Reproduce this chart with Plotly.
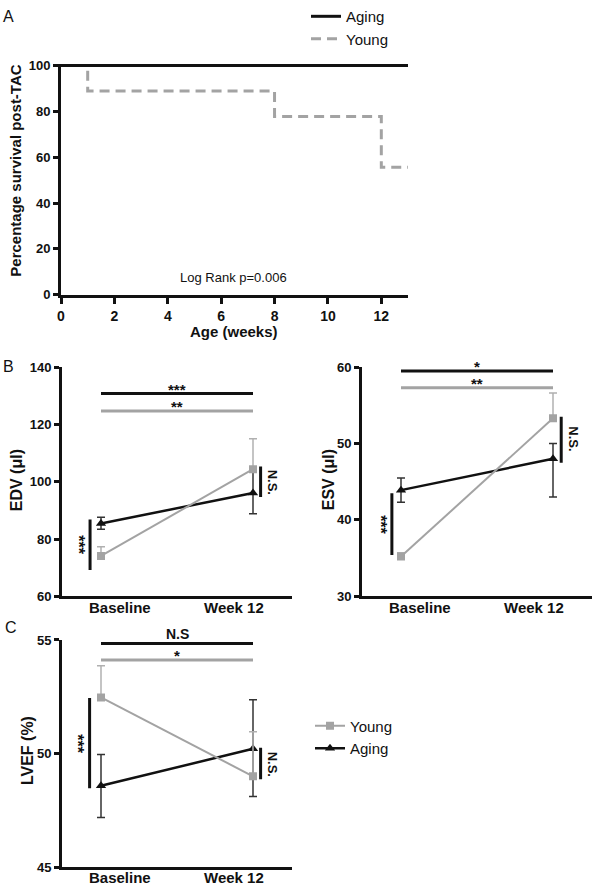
import plotly.graph_objects as go

FONT = "Liberation Sans"
GRAY = "#A3A3A3"
BLACK = "#111111"

# ---------------- Panel A data (Kaplan-Meier) ----------------
km_aging_weeks = [0, 13]
km_aging_surv = [100, 100]
km_young_weeks = [0, 1, 8, 12, 13]
km_young_surv = [100, 88.9, 77.8, 55.6, 55.6]
a_xticks = [0, 2, 4, 6, 8, 10, 12]
a_yticks = [0, 20, 40, 60, 80, 100]

# ---------------- Panels B/C data ----------------
timepoints = [0, 1]
time_labels = ["Baseline", "Week 12"]
time_label_pos = [0.125, 0.875]

edv_young = [74.1, 104.4]
edv_young_err = [3.2, 10.6]
edv_aging = [85.4, 96.1]
edv_aging_err_up = [2.2, 7.3]
edv_aging_err_dn = [2.0, 7.3]

esv_young = [35.2, 53.3]
esv_young_err = [0.5, 3.3]
esv_aging = [43.9, 48.0]
esv_aging_err_up = [1.6, 2.0]
esv_aging_err_dn = [1.6, 5.0]

lvef_young = [52.47, 49.0]
lvef_young_err = [1.4, 1.96]
lvef_aging = [48.58, 50.21]
lvef_aging_err_up = [1.38, 2.16]
lvef_aging_err_dn = [1.39, 2.1]

# significance annotations
edv_sig = dict(black_y=130.8, black_txt="***", gray_y=124.7, gray_txt="**",
               left=(-0.072, 69.2, 86.8), left_txt="***", left_ty=78.0,
               right=(1.05, 94.7, 105.3), right_txt="N.S.", right_ty=100.0)
esv_sig = dict(black_y=59.5, black_txt="*", gray_y=57.3, gray_txt="**",
               left=(-0.06, 35.4, 43.5), left_txt="***", left_ty=39.4,
               right=(1.054, 47.5, 53.5), right_txt="N.S.", right_ty=50.6)
lvef_sig = dict(black_y=54.85, black_txt="N.S", gray_y=54.12, gray_txt="*",
                left=(-0.075, 48.47, 52.45), left_txt="***", left_ty=50.45,
                right=(1.05, 48.87, 50.26), right_txt="N.S.", right_ty=49.55)

fig = go.Figure()

# ---- Panel A ----
fig.add_trace(go.Scatter(x=km_young_weeks, y=km_young_surv, mode="lines", line_shape="hv",
                         line=dict(color=GRAY, width=3, dash="10px,6px"), name="Young",
                         xaxis="x", yaxis="y", legend="legend", legendrank=2))
fig.add_trace(go.Scatter(x=km_aging_weeks, y=km_aging_surv, mode="lines",
                         line=dict(color=BLACK, width=3), name="Aging",
                         xaxis="x", yaxis="y", legend="legend", legendrank=1))


def add_pair(young, yerr, aging, aup, adn, xa, ya, show):
    fig.add_trace(go.Scatter(
        x=timepoints, y=aging, mode="lines+markers", name="Aging",
        line=dict(color=BLACK, width=2.5),
        marker=dict(symbol="triangle-up", size=9, color=BLACK),
        error_y=dict(type="data", symmetric=False, array=aup, arrayminus=adn,
                     color="#333333", thickness=1.5, width=4),
        xaxis=xa, yaxis=ya, showlegend=show, legend="legend2", legendrank=2))
    fig.add_trace(go.Scatter(
        x=timepoints, y=young, mode="lines+markers", name="Young",
        line=dict(color=GRAY, width=2),
        marker=dict(symbol="square", size=8, color=GRAY),
        error_y=dict(type="data", symmetric=False, array=yerr, arrayminus=[0, 0],
                     color="#B0B0B0", thickness=1.5, width=4),
        xaxis=xa, yaxis=ya, showlegend=show, legend="legend2", legendrank=1))


add_pair(edv_young, edv_young_err, edv_aging, edv_aging_err_up, edv_aging_err_dn, "x2", "y2", False)
add_pair(esv_young, esv_young_err, esv_aging, esv_aging_err_up, esv_aging_err_dn, "x3", "y3", False)
add_pair(lvef_young, lvef_young_err, lvef_aging, lvef_aging_err_up, lvef_aging_err_dn, "x4", "y4", True)

shapes = []
annotations = []


def add_sig(sig, xr, yr):
    shapes.append(dict(type="line", xref=xr, yref=yr, x0=0, x1=1, y0=sig["black_y"], y1=sig["black_y"],
                       line=dict(color=BLACK, width=3)))
    shapes.append(dict(type="line", xref=xr, yref=yr, x0=0, x1=1, y0=sig["gray_y"], y1=sig["gray_y"],
                       line=dict(color=GRAY, width=3)))
    lx, ly0, ly1 = sig["left"]
    shapes.append(dict(type="line", xref=xr, yref=yr, x0=lx, x1=lx, y0=ly0, y1=ly1,
                       line=dict(color=BLACK, width=3)))
    rx, ry0, ry1 = sig["right"]
    shapes.append(dict(type="line", xref=xr, yref=yr, x0=rx, x1=rx, y0=ry0, y1=ry1,
                       line=dict(color=BLACK, width=3)))
    is_ns = sig["black_txt"].startswith("N")
    annotations.append(dict(xref=xr, yref=yr, x=0.5, y=sig["black_y"], text=sig["black_txt"],
                            showarrow=False, yanchor="middle", yshift=9 if is_ns else 4,
                            font=dict(family=FONT, size=14 if is_ns else 15, weight="bold", color=BLACK)))
    annotations.append(dict(xref=xr, yref=yr, x=0.5, y=sig["gray_y"], text=sig["gray_txt"],
                            showarrow=False, yanchor="middle", yshift=4,
                            font=dict(family=FONT, size=15, weight="bold", color=BLACK)))
    annotations.append(dict(xref=xr, yref=yr, x=lx, y=sig["left_ty"], text=sig["left_txt"], textangle=90,
                            showarrow=False, xanchor="right", xshift=-1,
                            font=dict(family=FONT, size=16, weight="bold", color=BLACK)))
    annotations.append(dict(xref=xr, yref=yr, x=rx, y=sig["right_ty"], text=sig["right_txt"], textangle=90,
                            showarrow=False, xanchor="left", xshift=2,
                            font=dict(family=FONT, size=13, weight="bold", color=BLACK)))


add_sig(edv_sig, "x2", "y2")
add_sig(esv_sig, "x3", "y3")
add_sig(lvef_sig, "x4", "y4")

W, H = 600, 889


def px(xp):
    return xp / W


def py(yp):
    return 1 - yp / H


# category labels under the B/C axes, placed on each x scale
for xr, label_y in [("x2", 605), ("x3", 605), ("x4", 877)]:
    for pos, lab in zip(time_label_pos, time_labels):
        annotations.append(dict(xref=xr, yref="paper", x=pos, y=py(label_y), text=lab, showarrow=False,
                                xanchor="center", yanchor="middle",
                                font=dict(family=FONT, size=15, weight="bold", color=BLACK)))

# Panel letters and titles (paper-positioned text)
for txt, x, y in [("A", 8, 10), ("B", 8, 362), ("C", 11, 625)]:
    annotations.append(dict(xref="paper", yref="paper", x=px(x), y=py(y), text=txt, showarrow=False,
                            font=dict(family=FONT, size=16, color=BLACK), xanchor="center", yanchor="middle"))
for txt, x, y, size in [("Percentage survival post-TAC", 16, 165, 15), ("EDV (μl)", 16, 477, 16),
                        ("ESV (μl)", 328, 477, 16), ("LVEF (%)", 27, 750, 16)]:
    annotations.append(dict(xref="paper", yref="paper", x=px(x), y=py(y), text=txt, showarrow=False,
                            textangle=-90, font=dict(family=FONT, size=size, weight="bold", color=BLACK),
                            xanchor="center", yanchor="middle"))
annotations.append(dict(xref="paper", yref="paper", x=px(234), y=py(327), text="Age (weeks)", showarrow=False,
                        font=dict(family=FONT, size=15, weight="bold", color=BLACK),
                        xanchor="center", yanchor="middle"))
annotations.append(dict(xref="x", yref="y", x=6.45, y=7.4, text="Log Rank p=0.006", showarrow=False,
                        font=dict(family=FONT, size=13, color=BLACK), xanchor="center", yanchor="middle"))

axis_common = dict(showline=True, linecolor=BLACK, linewidth=3, showgrid=False, zeroline=False,
                   automargin=False, mirror=False)
num_font = dict(family=FONT, size=13, weight="bold", color=BLACK)

ydom_b = [py(594), py(363)]
ydom_c = [py(867), py(638)]
xdom_left = [px(62), px(292)]
xdom_right = [px(362), px(592)]
cat_range = [-0.2566, 1.2566]

cat_axis = dict(range=cat_range, ticks="", showticklabels=False, **axis_common)

fig.update_layout(
    width=W, height=H, autosize=False,
    margin=dict(l=0, r=0, t=0, b=0),
    paper_bgcolor="white", plot_bgcolor="white",
    font=dict(family=FONT, color=BLACK),
    xaxis=dict(domain=[px(61), px(408)], range=[0, 13], tickvals=a_xticks, ticks="outside", ticklen=6,
               tickwidth=2.5, tickcolor=BLACK, tickfont=dict(family=FONT, size=14, weight="bold", color=BLACK),
               anchor="y", **axis_common),
    yaxis=dict(domain=[py(290), py(290 - 100.7 * 2.31)], range=[0, 100.7], tickvals=a_yticks, ticks="outside",
               ticklen=5, tickwidth=2.5, tickcolor=BLACK, tickfont=num_font, anchor="x", **axis_common),
    xaxis2=dict(domain=xdom_left, anchor="y2", **cat_axis),
    yaxis2=dict(domain=ydom_b, range=[60, 140], tickvals=[60, 80, 100, 120, 140], ticks="outside", ticklen=5,
                tickwidth=2.5, tickcolor=BLACK, tickfont=num_font, anchor="x2", **axis_common),
    xaxis3=dict(domain=xdom_right, anchor="y3", **cat_axis),
    yaxis3=dict(domain=ydom_b, range=[30, 60], tickvals=[30, 40, 50, 60], ticks="outside", ticklen=5,
                tickwidth=2.5, tickcolor=BLACK, tickfont=num_font, anchor="x3", **axis_common),
    xaxis4=dict(domain=xdom_left, anchor="y4", **cat_axis),
    yaxis4=dict(domain=ydom_c, range=[45, 55], tickvals=[45, 50, 55], ticks="outside", ticklen=5,
                tickwidth=2.5, tickcolor=BLACK, tickfont=num_font, anchor="x4", **axis_common),
    legend=dict(x=px(306), y=py(-7), xanchor="left", yanchor="top", bgcolor="rgba(0,0,0,0)",
                font=dict(family=FONT, size=15, color=BLACK), tracegroupgap=0),
    legend2=dict(x=px(310), y=py(708), xanchor="left", yanchor="top", bgcolor="rgba(0,0,0,0)",
                 font=dict(family=FONT, size=15, color=BLACK), tracegroupgap=0),
    shapes=shapes,
    annotations=annotations,
    showlegend=True,
)

fig.write_html("out.html", config={"displayModeBar": False},
               post_script="document.body.style.margin='0';document.body.style.padding='0';")
